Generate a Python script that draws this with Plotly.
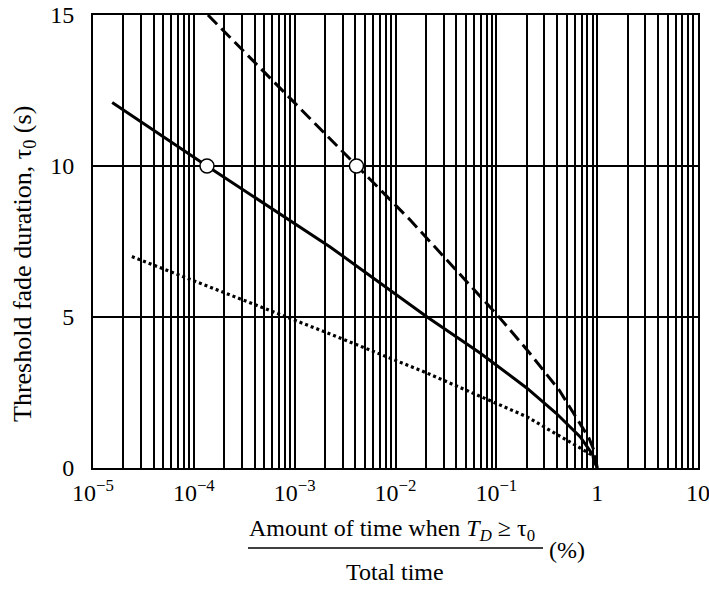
import plotly.graph_objects as go

# ---- data (x in %, y in s) ----
solid_x = [1.55e-5, 1.35e-4, 2.25e-3, 2.06e-2, 6.9e-2, 0.2, 0.39, 0.68, 0.9, 1.0]
solid_y = [12.1, 10.0, 7.32, 5.0, 3.81, 2.65, 1.82, 1.03, 0.45, 0.0]

dash_x = [1.38e-4, 4.1e-3, 1.4e-2, 0.102, 0.202, 0.42, 0.83, 0.95, 1.0]
dash_y = [15.0, 10.0, 8.21, 5.07, 3.91, 2.58, 0.99, 0.5, 0.0]

dot_x = [2.43e-5, 9.0e-4, 2.4e-3, 2.03e-2, 0.2, 0.68, 0.9, 1.0]
dot_y = [7.0, 4.97, 4.40, 3.15, 1.70, 0.66, 0.42, 0.0]

marker_x = [1.35e-4, 4.1e-3]
marker_y = [10.0, 10.0]

decades = [-5, -4, -3, -2, -1, 0, 1]
decade_labels = ["10<sup>\u22125</sup>", "10<sup>\u22124</sup>", "10<sup>\u22123</sup>",
                 "10<sup>\u22122</sup>", "10<sup>\u22121</sup>", "1", "10"]
y_ticks = [0, 5, 10, 15]

# gridline positions: every 1..9 x 10^k
tickvals, ticktext = [], []
for i, d in enumerate(decades):
    tickvals.append(10.0 ** d)
    ticktext.append(decade_labels[i])
    if d < 1:
        for m in range(2, 10):
            tickvals.append(m * 10.0 ** d)
            ticktext.append("")

FONT = "Liberation Serif"
FS = 24

fig = go.Figure()
fig.add_trace(go.Scatter(x=solid_x, y=solid_y, mode="lines",
                         line=dict(color="black", width=3), showlegend=False))
fig.add_trace(go.Scatter(x=dash_x, y=dash_y, mode="lines",
                         line=dict(color="black", width=3, dash="13px,6px"), showlegend=False))
fig.add_trace(go.Scatter(x=dot_x, y=dot_y, mode="lines",
                         line=dict(color="black", width=3.2, dash="3px,3px"), showlegend=False))
fig.add_trace(go.Scatter(x=marker_x, y=marker_y, mode="markers",
                         marker=dict(symbol="circle", size=14, color="white",
                                     line=dict(color="black", width=1.5)),
                         showlegend=False))

fig.update_layout(
    width=709, height=599,
    margin=dict(l=93, r=11, t=15, b=131, autoexpand=False),
    paper_bgcolor="white", plot_bgcolor="white",
    font=dict(family=FONT, size=FS, color="black"),
    xaxis=dict(type="log", range=[-5, 1], tickvals=tickvals, ticktext=ticktext,
               showgrid=True, gridcolor="black", gridwidth=2,
               showline=True, linecolor="black", linewidth=2, mirror=True,
               ticks="", ticklabelstandoff=2, zeroline=False, automargin=False,
               ticklabeloverflow="allow",
               tickfont=dict(family=FONT, size=FS)),
    yaxis=dict(range=[0, 15], tickvals=y_ticks,
               showgrid=True, gridcolor="black", gridwidth=2,
               showline=True, linecolor="black", linewidth=2, mirror=True,
               ticks="", ticklabelstandoff=12, zeroline=False, automargin=False,
               ticklabeloverflow="allow",
               tickfont=dict(family=FONT, size=FS)),
)

def px_x(px):
    return (px - 93) / 605.0

def px_y(py):
    return (468 - py) / 453.0

# y-axis title
fig.add_annotation(x=px_x(24), y=px_y(264), xref="paper", yref="paper",
                   text="Threshold fade duration, \u03c4<sub>0</sub> (s)", textangle=-90,
                   showarrow=False, font=dict(family=FONT, size=26),
                   xanchor="center", yanchor="middle")

# x-axis title as a fraction
fig.add_annotation(x=px_x(392), y=px_y(530), xref="paper", yref="paper",
                   text="Amount of time when <i>T</i><sub><i>D</i></sub> \u2265 \u03c4<sub>0</sub>",
                   showarrow=False, font=dict(family=FONT, size=FS), xanchor="center", yanchor="middle")
fig.add_annotation(x=px_x(395), y=px_y(572), xref="paper", yref="paper",
                   text="Total time", showarrow=False,
                   font=dict(family=FONT, size=FS), xanchor="center", yanchor="middle")
fig.add_annotation(x=px_x(567), y=px_y(550), xref="paper", yref="paper",
                   text="(%)", showarrow=False,
                   font=dict(family=FONT, size=FS), xanchor="center", yanchor="middle")
fig.add_shape(type="line", xref="paper", yref="paper",
              x0=px_x(248), x1=px_x(543), y0=px_y(548), y1=px_y(548),
              line=dict(color="black", width=1.5))

fig.write_html("out.html", config={"displayModeBar": False},
               post_script="document.body.style.margin='0px';")
